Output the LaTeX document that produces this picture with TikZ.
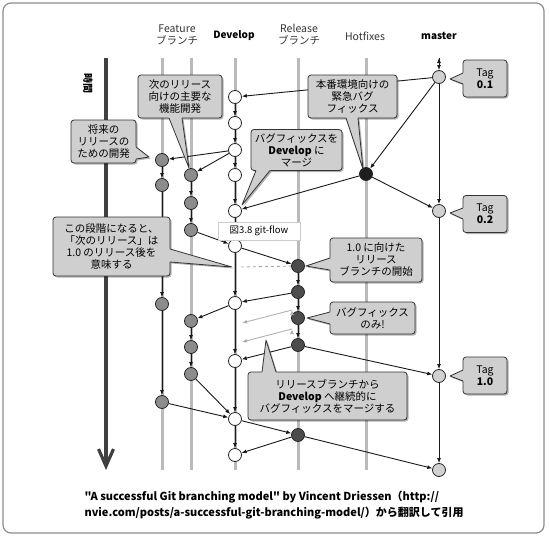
\documentclass[tikz,border=0pt]{standalone}
\usepackage{fontspec}
\setmainfont{Noto Sans CJK JP}[Ligatures=TeXOff]
\usetikzlibrary{arrows.meta,calc,shadows}

\newcommand{\balloon}[7]{%
  \fill[tail shadow] (#5) -- (#7) -- (#6) -- cycle;
  \node[balloon box,#3] at (#2) (#1) {#4};
  \fill[tail fill] ($(#5)!-2pt!(#7)$) -- (#7) -- ($(#6)!-2pt!(#7)$) -- cycle;
  \draw[tail line] (#5) -- (#7) -- (#6);
}

\begin{document}
\begin{tikzpicture}[x=1pt,y=-1pt,
    font=\fontsize{10.5}{12}\selectfont,
    lane/.style={draw=black!27,line width=3pt},
    time axis/.style={draw=black!75,line width=3.2pt,-{Straight Barb[length=17pt,width=15pt]}},
    commit/.style={circle,draw=black!85,line width=0.8pt,inner sep=0pt,minimum size=13pt},
    dev node/.style={commit,fill=white},
    feature node/.style={commit,fill=black!45},
    release node/.style={commit,fill=black!70},
    hotfix node/.style={commit,fill=black!88},
    master node/.style={commit,fill=black!18},
    flow/.style={-{Latex[length=5pt,width=4pt]},line width=0.9pt,draw=black!90},
    backflow/.style={-{Latex[length=5pt,width=4pt]},line width=0.9pt,draw=black!30},
    header/.style={text=black!80,align=center},
    balloon box/.style={rectangle,rounded corners=3pt,draw=black!80,fill=black!19,line width=0.8pt,align=center,inner sep=1.5pt,drop shadow={shadow xshift=1.5pt,shadow yshift=-1.5pt,opacity=0.3,fill=black}},
    tail shadow/.style={fill=black,opacity=0.3,xshift=1.5pt,yshift=-1.5pt},
    tail fill/.style={fill=black!19},
    tail line/.style={draw=black!80,line width=0.8pt,line join=round},
  ]

  \useasboundingbox (0,0) rectangle (549,538);
  \draw[black!45,line width=1.2pt,rounded corners=8pt] (3,3) rectangle (544,533);

  \node[header] at (177,35) (featurehead) {Feature\\ブランチ};
  \node[font=\bfseries] at (234,36) (develophead) {Develop};
  \node[header] at (299,35) (releasehead) {Release\\ブランチ};
  \node[header] at (365,36) (hotfixhead) {Hotfixes};
  \node[font=\bfseries] at (439,36) (masterhead) {master};
  \node[font=\bfseries,rotate=-90] at (88,83) (timehead) {時間};

  \draw[lane] (162,58) -- (162,470);
  \draw[lane] (191,58) -- (191,470);
  \draw[lane] (235,58) -- (235,470);
  \draw[lane] (298,58) -- (298,470);
  \draw[lane] (366,58) -- (366,470);

  \coordinate (ttop) at (106,58);
  \coordinate (tbot) at (106,470);
  \draw[time axis] (ttop) -- (tbot);

  \node[dev node] at (235,97) (d0) {};
  \node[dev node] at (235,123) (d1) {};
  \node[dev node] at (235,150) (d2) {};
  \node[dev node] at (235,175) (d3) {};
  \node[dev node] at (235,211) (d4) {};
  \node[dev node] at (235,246) (d5) {};
  \node[dev node] at (235,303) (d6) {};
  \node[dev node] at (235,361) (d7) {};
  \node[dev node] at (235,419) (d8) {};
  \node[dev node] at (235,455) (d9) {};

  \node[feature node] at (162,160) (fa0) {};
  \node[feature node] at (162,185) (fa1) {};
  \node[feature node] at (162,304) (fa2) {};
  \node[feature node] at (162,402) (fa3) {};
  \node[feature node] at (191,175) (fb0) {};
  \node[feature node] at (191,203) (fb1) {};
  \node[feature node] at (191,230) (fb2) {};
  \node[feature node] at (191,321) (fb3) {};
  \node[feature node] at (191,347) (fb4) {};
  \node[feature node] at (191,374) (fb5) {};

  \node[release node] at (298,266) (r0) {};
  \node[release node] at (298,292) (r1) {};
  \node[release node] at (298,318) (r2) {};
  \node[release node] at (298,345) (r3) {};
  \node[release node] at (298,435) (r4) {};

  \node[hotfix node] at (366,174) (h0) {};

  \coordinate (mtop) at (439,58);
  \node[master node] at (439,77) (m0) {};
  \node[master node] at (439,211) (m1) {};
  \node[master node] at (439,376) (m2) {};
  \node[master node] at (439,470) (m3) {};

  \path[flow] (mtop) edge (m0);
  \path[flow] (m0) edge (m1);
  \path[flow] (m1) edge (m2);
  \path[flow] (m2) edge (m3);
  \path[flow] (m0) edge (d0);
  \path[flow] (m0) edge (h0);
  \path[flow] (h0) edge (m1);
  \path[flow] (h0) edge (d4);
  \path[flow] (d0) edge (d1);
  \path[flow] (d1) edge (d2);
  \path[flow] (d2) edge (d3);
  \path[flow] (d3) edge (d4);
  \path[flow] (d4) edge (d5);
  \path[flow] (d5) edge (d6);
  \path[flow] (d6) edge (d7);
  \path[flow] (d7) edge (d8);
  \path[flow] (d8) edge (d9);
  \path[flow] (d2) edge (fa0);
  \path[flow] (d2) edge (fb0);
  \path[flow] (fa0) edge (fa1);
  \path[flow] (fa1) edge (fa2);
  \path[flow] (fa2) edge (fa3);
  \path[flow] (fa3) edge (d8);
  \path[flow] (fb0) edge (fb1);
  \path[flow] (fb1) edge (fb2);
  \path[flow] (fb2) edge (d5);
  \path[flow] (d6) edge (fb3);
  \path[flow] (fb3) edge (fb4);
  \path[flow] (fb4) edge (fb5);
  \path[flow] (fb5) edge (d8);
  \path[flow] (d5) edge (r0);
  \path[flow] (r0) edge (r1);
  \path[flow] (r1) edge (r2);
  \path[flow] (r2) edge (r3);
  \path[flow] (r1) edge (d6);
  \path[flow] (r3) edge (d7);
  \path[flow] (r3) edge (m2);
  \path[flow] (d8) edge (r4);
  \path[flow] (r4) edge (d9);
  \path[flow] (r4) edge (m3);

  \coordinate (cut) at (241,267);
  \draw[black!35,line width=0.9pt,dashed] (cut) -- (r0);
  \coordinate (fix1s) at (292,310);
  \coordinate (fix1e) at (242,323);
  \coordinate (fix2s) at (292,329);
  \coordinate (fix2e) at (242,342);
  \path[backflow] (fix1s) edge (fix1e);
  \path[backflow] (fix2s) edge (fix2e);

  \balloon{nextrel}{180,96.5}{minimum width=84pt,minimum height=43pt}{次のリリース\\向けの主要な\\機能開発}{169,118}{182,118}{189,168}
  \balloon{future}{103.5,141.5}{minimum width=65pt,minimum height=43pt}{将来の\\リリースの\\ための開発}{136,147}{136,159}{149,157}
  \balloon{hotnote}{352.5,96.5}{minimum width=89pt,minimum height=43pt}{本番環境向けの\\緊急バグ\\フィックス}{346,118}{358,118}{363,169}
  \balloon{mergenote}{296.5,150}{minimum width=91pt,minimum height=41pt}{バグフィックスを\\\textbf{Develop} に\\マージ}{256,170.5}{270,170.5}{242,205}
  \balloon{tag01}{485,78.5}{minimum width=44pt,minimum height=37pt}{Tag\\\textbf{0.1}}{463,73}{463,84}{450,79}
  \balloon{tag02}{485,214}{minimum width=44pt,minimum height=37pt}{Tag\\\textbf{0.2}}{463,208}{463,219}{450,213}
  \balloon{tag10}{485,375.5}{minimum width=44pt,minimum height=37pt}{Tag\\\textbf{1.0}}{463,370}{463,381}{450,376}
  \balloon{laternote}{111.5,246.5}{minimum width=117pt,minimum height=59pt}{この段階になると、\\「次のリリース」は\\1.0 のリリース後を\\意味する}{170,249}{170,262}{232,267}
  \balloon{relstart}{376,260}{minimum width=92pt,minimum height=44pt}{1.0 に向けた\\リリース\\ブランチの開始}{330,258}{330,270}{306,266}
  \balloon{bugonly}{372.5,318}{minimum width=85pt,minimum height=32pt}{バグフィックス\\のみ!}{330,312}{330,324}{307,318}
  \balloon{mergeback}{327.5,396}{minimum width=159pt,minimum height=48pt}{リリースブランチから\\\textbf{Develop} へ継続的に\\バグフィックスをマージする}{262,372}{276,372}{266,340}

  \node[draw=black!20,fill=white,minimum width=82pt,minimum height=18pt,inner sep=2pt,font=\fontsize{9.5}{11}\selectfont,drop shadow={shadow xshift=0.8pt,shadow yshift=-0.8pt,opacity=0.15,fill=black}] at (259,231) (figlabel) {図3.8 git-flow};

  \node[anchor=west,align=left,font=\bfseries\fontsize{11}{16}\selectfont] at (81,505) (credit) {"A successful Git branching model" by Vincent Driessen（http://\\nvie.com/posts/a-successful-git-branching-model/）から翻訳して引用};
\end{tikzpicture}
\end{document}
